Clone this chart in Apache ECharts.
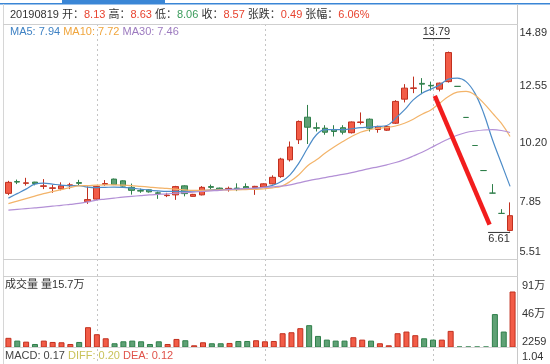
<!DOCTYPE html>
<html>
<head>
<meta charset="utf-8">
<script src="https://cdn.jsdelivr.net/npm/echarts@6/dist/echarts.min.js"></script>
<style>
  html, body { margin: 0; padding: 0; background: #fff; }
  #chart { width: 550px; height: 364px; }
</style>
</head>
<body>
<div id="chart"></div>
<script>
const dates = [
  '2019-08-19', '2019-08-20', '2019-08-21', '2019-08-22', '2019-08-23',
  '2019-08-26', '2019-08-27', '2019-08-28', '2019-08-29', '2019-08-30',
  '2019-09-02', '2019-09-03', '2019-09-04', '2019-09-05', '2019-09-06',
  '2019-09-09', '2019-09-10', '2019-09-11', '2019-09-12',
  '2019-09-16', '2019-09-17', '2019-09-18', '2019-09-19', '2019-09-20',
  '2019-09-23', '2019-09-24', '2019-09-25', '2019-09-26', '2019-09-27',
  '2019-09-30',
  '2019-10-08', '2019-10-09', '2019-10-10', '2019-10-11',
  '2019-10-14', '2019-10-15', '2019-10-16', '2019-10-17', '2019-10-18',
  '2019-10-21', '2019-10-22', '2019-10-23', '2019-10-24', '2019-10-25',
  '2019-10-28', '2019-10-29', '2019-10-30', '2019-10-31',
  '2019-11-01',
  '2019-11-04', '2019-11-05', '2019-11-06', '2019-11-07', '2019-11-08',
  '2019-11-11', '2019-11-12', '2019-11-13', '2019-11-14'
]

const opens = [
  8.13, 8.60, 8.53, 8.58, 8.41, 8.33, 8.31, 8.44, 8.56, 7.80,
  7.90, 8.49, 8.70, 8.63, 8.37, 8.24, 8.27, 8.15, 8.04, 8.07,
  8.43, 8.01, 8.07, 8.40, 8.34, 8.28, 8.34, 8.40, 8.36, 8.38,
  8.51, 8.80, 9.47, 10.27, 11.17, 10.75, 10.73, 10.68, 10.75, 10.55,
  10.96, 11.09, 10.68, 10.65, 10.93, 11.89, 12.32, 12.52, 12.44, 12.29,
  12.59, 12.40, 11.16, 10.04, 9.04, 8.14, 7.33, 6.65
]
const closes = [
  8.57, 8.58, 8.55, 8.52, 8.43, 8.35, 8.43, 8.47, 8.53, 7.88,
  8.41, 8.52, 8.48, 8.42, 8.25, 8.22, 8.19, 8.13, 8.06, 8.40,
  8.12, 8.09, 8.37, 8.37, 8.28, 8.33, 8.32, 8.34, 8.41, 8.51,
  8.77, 9.50, 9.98, 11.00, 10.77, 10.73, 10.57, 10.60, 10.57, 10.98,
  10.98, 10.73, 10.80, 10.80, 11.80, 12.33, 12.34, 12.49, 12.42, 12.53,
  13.75, 12.40, 11.16, 10.04, 9.04, 8.14, 7.33, 7.24
]
const lows = [
  8.06, 8.50, 8.44, 8.45, 8.30, 8.15, 8.25, 8.30, 8.45, 7.71,
  7.86, 8.43, 8.46, 8.40, 8.08, 8.15, 8.16, 7.91, 7.98, 7.87,
  8.01, 8.00, 8.05, 8.30, 8.26, 8.20, 8.22, 8.29, 8.07, 8.36,
  8.49, 8.75, 9.40, 10.10, 10.10, 10.60, 10.47, 10.40, 10.48, 10.52,
  10.88, 10.60, 10.55, 10.62, 10.90, 11.76, 12.13, 12.09, 12.23, 12.20,
  12.55, 12.40, 11.16, 10.04, 9.04, 8.14, 7.33, 6.61
]
const highs = [
  8.63, 8.68, 8.75, 8.59, 8.70, 8.47, 8.57, 8.55, 8.67, 8.41,
  8.43, 8.66, 8.72, 8.65, 8.52, 8.32, 8.29, 8.20, 8.15, 8.43,
  8.45, 8.11, 8.42, 8.48, 8.36, 8.40, 8.53, 8.53, 8.43, 8.53,
  8.85, 9.55, 10.20, 11.04, 11.66, 10.96, 10.85, 10.85, 10.85, 11.00,
  11.36, 11.12, 10.83, 10.82, 11.85, 12.49, 12.79, 12.73, 12.59, 12.55,
  13.79, 12.40, 11.16, 10.04, 9.04, 8.50, 7.50, 7.77
]
const volumes = [
  157000, 112000, 95000, 57000, 112000, 90000, 85000, 57000, 90000, 330000,
  216000, 150000, 69000, 101000, 112000, 101000, 57000, 101000, 57000, 139000,
  118000, 36000, 85000, 69000, 69000, 74000, 106000, 106000, 118000, 101000,
  106000, 232000, 248000, 314000, 363000, 188000, 128000, 112000, 112000, 167000,
  128000, 112000, 69000, 36000, 232000, 259000, 200000, 150000, 128000, 128000,
  270000, 3100, 2800, 2600, 2259, 543000, 259000, 910000
]
const ma5 = [
  7.94, 8.12, 8.30, 8.50, 8.54, 8.50, 8.46, 8.43, 8.44, 8.38,
  8.36, 8.37, 8.38, 8.37, 8.34, 8.30, 8.26, 8.23, 8.21, 8.21,
  8.21, 8.22, 8.24, 8.27, 8.28, 8.29, 8.30, 8.31, 8.33, 8.37,
  8.45, 8.60, 8.87, 9.34, 9.94, 10.47, 10.67, 10.67, 10.67, 10.71,
  10.75, 10.77, 10.80, 10.84, 11.13, 11.46, 11.86, 12.13, 12.29, 12.46,
  12.69, 12.73, 12.59, 12.13, 11.33, 10.27, 9.34, 8.41
]
const ma10 = [
  7.72, 7.82, 7.92, 8.02, 8.12, 8.20, 8.28, 8.36, 8.43, 8.44,
  8.46, 8.47, 8.47, 8.46, 8.44, 8.41, 8.38, 8.35, 8.33, 8.30,
  8.27, 8.25, 8.25, 8.26, 8.27, 8.27, 8.27, 8.28, 8.29, 8.31,
  8.35, 8.41, 8.60, 8.87, 9.23, 9.47, 9.74, 9.98, 10.20, 10.40,
  10.57, 10.67, 10.73, 10.76, 10.82, 10.93, 11.09, 11.29, 11.46, 11.73,
  12.00, 12.17, 12.20, 12.06, 11.73, 11.33, 10.93, 10.40
]
const ma30 = [
  7.46, 7.49, 7.52, 7.55, 7.58, 7.62, 7.65, 7.69, 7.73, 7.79,
  7.86, 7.90, 7.94, 7.98, 8.01, 8.04, 8.07, 8.09, 8.11, 8.14,
  8.16, 8.18, 8.21, 8.23, 8.25, 8.28, 8.30, 8.32, 8.34, 8.37,
  8.39, 8.42, 8.47, 8.55, 8.63, 8.70, 8.76, 8.83, 8.89, 8.96,
  9.04, 9.12, 9.19, 9.27, 9.36, 9.48, 9.62, 9.77, 9.95, 10.13,
  10.30, 10.45, 10.56, 10.62, 10.66, 10.67, 10.64, 10.56
]

const priceTicks = [5.51, 7.85, 10.20, 12.55, 14.89]
const priceTickPad = [[0, 0, 14, 0], [3, 0, 0, 0], [2, 0, 0, 0], [7, 0, 0, 0], [18, 0, 0, 0]]
const volTicks = [2259, 460000, 910000]
const monthMarks = [10, 29, 48]
const trendLine = [[48.45, 12.02], [54.67, 6.88]]
const prevClose0 = 8.08
const macdValues = { macd: 0.17, diff: 0.20, dea: 0.12 }
const macdTopLabel = '1.04'

const FONT = "'Liberation Sans', 'Noto Sans CJK SC', sans-serif"
const UP = '#f25c47', UP_BORDER = '#c1301f'
const DOWN = '#5fa175', DOWN_BORDER = '#2f7f4a'

function isUp(i) {
  if (closes[i] !== opens[i]) return closes[i] > opens[i]
  return i > 0 ? closes[i] >= closes[i - 1] : true
}

const candleData = dates.map((d, i) => [opens[i], closes[i], lows[i], highs[i]])
const volumeData = volumes.map((v, i) => ({
  value: v,
  itemStyle: isUp(i)
    ? { color: UP, borderColor: UP_BORDER }
    : { color: DOWN, borderColor: DOWN_BORDER }
}))

const change = closes[0] - prevClose0
const header =
  '{d|' + dates[0].replace(/-/g, '') + ' }' +
  '{l|开：}{r|' + opens[0].toFixed(2) + ' }' +
  '{l|高：}{r|' + highs[0].toFixed(2) + ' }' +
  '{l|低：}{g|' + lows[0].toFixed(2) + ' }' +
  '{l|收：}{r|' + closes[0].toFixed(2) + ' }' +
  '{l|张跌：}{r|' + change.toFixed(2) + ' }' +
  '{l|张幅：}{r|' + (change / prevClose0 * 100).toFixed(2) + '%}'

const maLegend =
  '{a|MA5: ' + ma5[0].toFixed(2) + ' }' +
  '{b|MA10: ' + ma10[0].toFixed(2) + ' }' +
  '{c|MA30: ' + ma30[0].toFixed(2) + '}'

const macdText =
  '{m|MACD: ' + macdValues.macd.toFixed(2) + ' }' +
  '{f|DIFF: ' + macdValues.diff.toFixed(2) + ' }' +
  '{e|DEA: ' + macdValues.dea.toFixed(2) + '}'

// echarts label styles use color, zrender graphic text uses fill
function txt(color) {
  return { color: color, fontSize: 11, fontFamily: FONT }
}
function gtxt(color) {
  return { fill: color, fontSize: 11, fontFamily: FONT }
}

function hline(y, x1, x2, color) {
  return { type: 'line', shape: { x1: x1, y1: y, x2: x2, y2: y }, style: { stroke: color, lineWidth: 1 }, z: 100 }
}
function vline(x, y1, y2, color) {
  return { type: 'line', shape: { x1: x, y1: y1, x2: x, y2: y2 }, style: { stroke: color, lineWidth: 1 }, z: 100 }
}

const priceRich = {}
priceTicks.forEach((t, i) => {
  priceRich['t' + i] = Object.assign(txt('#333'), { padding: priceTickPad[i] })
})

const chart = echarts.init(document.getElementById('chart'))

const option = {
  animation: false,
  backgroundColor: '#fff',
  grid: [
    { left: 4, right: 33, top: 24, height: 235 },
    { left: 4, right: 33, top: 291.5, height: 56 },
    { left: 8.42, right: 37.42, top: 24, bottom: 0 }
  ],
  xAxis: [
    {
      type: 'category', gridIndex: 0, data: dates, boundaryGap: true,
      axisLine: { show: false }, axisTick: { show: false }, axisLabel: { show: false }, splitLine: { show: false }
    },
    {
      type: 'category', gridIndex: 1, data: dates, boundaryGap: true,
      axisLine: { show: false }, axisTick: { show: false }, axisLabel: { show: false }, splitLine: { show: false }
    },
    {
      type: 'category', gridIndex: 2, data: dates, boundaryGap: false,
      axisLine: { show: false }, axisTick: { show: false }, axisLabel: { show: false },
      splitLine: {
        show: true,
        interval: (index) => monthMarks.includes(index),
        lineStyle: { color: '#c4c4c4', width: 1, type: [2, 3] }
      }
    },
    { type: 'value', gridIndex: 0, min: -0.5, max: dates.length - 0.5, show: false }
  ],
  yAxis: [
    {
      type: 'value', gridIndex: 0, position: 'right', min: 5.51, max: 14.89,
      axisLine: { show: false }, axisTick: { show: false }, splitLine: { show: false },
      axisLabel: {
        customValues: priceTicks,
        margin: 5,
        rich: priceRich,
        formatter: (v) => {
          const i = priceTicks.findIndex(t => Math.abs(t - v) < 1e-6)
          return '{t' + i + '|' + v.toFixed(2) + '}'
        }
      }
    },
    {
      type: 'value', gridIndex: 1, position: 'right', min: 0, max: 910000,
      axisLine: { show: false }, axisTick: { show: false }, splitLine: { show: false },
      axisLabel: {
        customValues: volTicks,
        margin: 5,
        color: '#333', fontSize: 11, fontFamily: FONT,
        verticalAlign: 'bottom',
        formatter: (v) => v >= 10000 ? Math.round(v / 10000) + '万' : String(v)
      }
    },
    { type: 'value', gridIndex: 2, min: 0, max: 1, show: false }
  ],
  series: [
    {
      type: 'candlestick',
      xAxisIndex: 0, yAxisIndex: 0,
      data: candleData,
      barWidth: 6,
      itemStyle: {
        color: UP, color0: DOWN,
        borderColor: UP_BORDER, borderColor0: DOWN_BORDER,
        borderColorDoji: DOWN_BORDER,
        borderWidth: 1
      },
      markPoint: {
        symbol: 'rect',
        symbolSize: [27, 1],
        itemStyle: { color: '#333' },
        label: Object.assign(txt('#333'), { formatter: (p) => p.value.toFixed(2) }),
        data: [
          { type: 'max', valueDim: 'highest', symbolOffset: [-12, -13], label: { position: 'top', distance: 1 } },
          { type: 'min', valueDim: 'lowest', symbolSize: [22, 1], symbolOffset: [-11, 1], label: { position: 'bottom', distance: 1 } }
        ]
      },
      z: 3
    },
    {
      type: 'line', xAxisIndex: 0, yAxisIndex: 0, data: ma5, smooth: 0.4, symbol: 'none',
      lineStyle: { color: '#4d8cc8', width: 1.2 }, z: 4
    },
    {
      type: 'line', xAxisIndex: 0, yAxisIndex: 0, data: ma10, smooth: 0.4, symbol: 'none',
      lineStyle: { color: '#f3b46a', width: 1.2 }, z: 4
    },
    {
      type: 'line', xAxisIndex: 0, yAxisIndex: 0, data: ma30, smooth: 0.4, symbol: 'none',
      lineStyle: { color: '#b390d6', width: 1.2 }, z: 4
    },
    {
      type: 'line', xAxisIndex: 3, yAxisIndex: 0, data: trendLine, symbol: 'none',
      lineStyle: { color: '#f21d1d', width: 4.5, cap: 'butt' }, z: 5
    },
    {
      type: 'bar', xAxisIndex: 1, yAxisIndex: 1, data: volumeData,
      barWidth: 6,
      itemStyle: { borderWidth: 1 },
      barMinHeight: 1
    }
  ],
  graphic: [
    { type: 'rect', shape: { x: 0, y: 3, width: 550, height: 1.5 }, style: { fill: '#3a86d6' }, z: 100 },
    { type: 'rect', shape: { x: 62, y: 0, width: 103, height: 3 }, style: { fill: '#3a86d6' }, z: 100 },
    vline(3.5, 4, 364, '#d6d6d6'),
    vline(517.5, 4, 364, '#c8c8c8'),
    hline(24.5, 3, 518, '#cfcfcf'),
    hline(259.5, 3, 518, '#cfcfcf'),
    hline(276.5, 3, 518, '#cfcfcf'),
    hline(347.5, 3, 518, '#d6d6d6'),
    {
      type: 'text', x: 10, y: 15, z: 100,
      style: {
        text: header, verticalAlign: 'middle', font: '11px ' + FONT,
        rich: { d: gtxt('#333'), l: gtxt('#333'), r: gtxt('#e8432f'), g: gtxt('#3a9b5b') }
      }
    },
    {
      type: 'text', x: 10, y: 32, z: 100,
      style: {
        text: maLegend, verticalAlign: 'middle', font: '11px ' + FONT,
        rich: { a: gtxt('#3f82c4'), b: gtxt('#f0a53c'), c: gtxt('#9c7abf') }
      }
    },
    {
      type: 'text', x: 5, y: 285, z: 100,
      style: { text: '成交量 量' + (volumes[0] / 10000).toFixed(1) + '万', verticalAlign: 'middle', fill: '#333', font: '11px ' + FONT }
    },
    {
      type: 'text', x: 5, y: 356, z: 100,
      style: {
        text: macdText, verticalAlign: 'middle', font: '11px ' + FONT,
        rich: { m: gtxt('#444'), f: gtxt('#c9c25a'), e: gtxt('#e0524a') }
      }
    },
    {
      type: 'text', x: 522, y: 357, z: 100,
      style: { text: macdTopLabel, verticalAlign: 'middle', fill: '#333', font: '11px ' + FONT }
    }
  ]
}

chart.setOption(option)
</script>
</body>
</html>
